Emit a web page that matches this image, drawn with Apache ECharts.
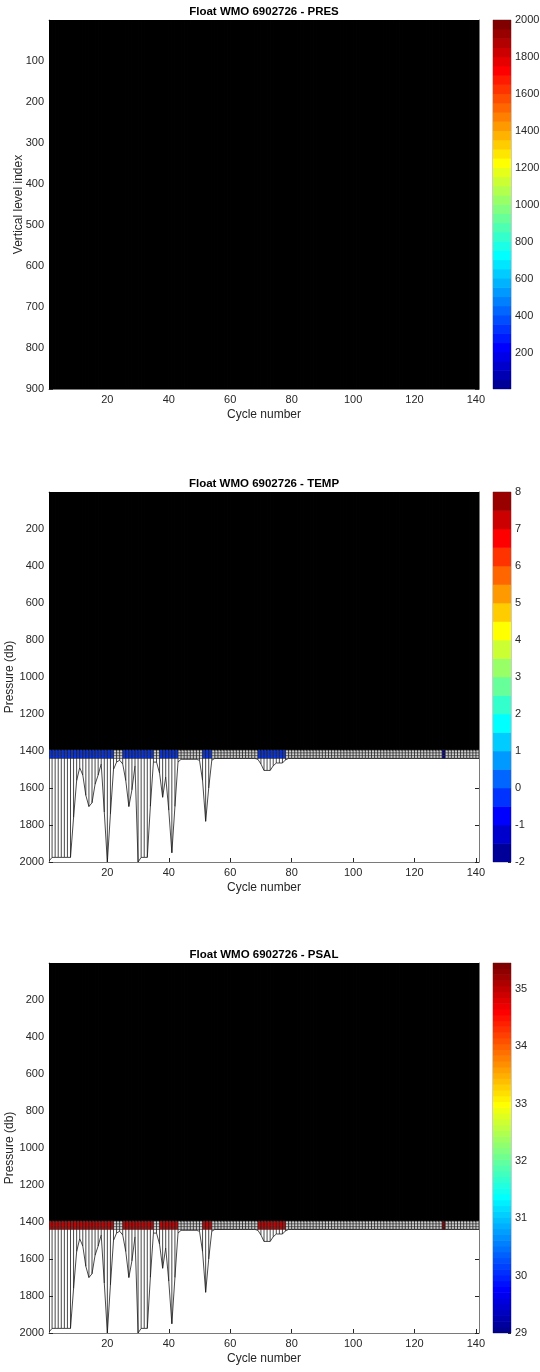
<!DOCTYPE html>
<html><head><meta charset="utf-8">
<script src="https://cdn.jsdelivr.net/npm/echarts@6/dist/echarts.min.js"></script>
<style>html,body{margin:0;padding:0;background:#fff}#c{width:540px;height:1372px}</style>
</head><body><div id="c"></div>
<script>
// ---------------- DATA ----------------
const floatId = '6902726';
const panelVars = ['PRES', 'TEMP', 'PSAL'];
const cycles = Array.from({length: 141}, (_, i) => i + 1);   // mesh node cycle numbers
const xTicks = [20, 40, 60, 80, 100, 120, 140];
const levelTicks = [100, 200, 300, 400, 500, 600, 700, 800, 900];
const presTicks = [200, 400, 600, 800, 1000, 1200, 1400, 1600, 1800, 2000];

// PRES panel: number of vertical levels per cycle (mesh fully dense -> black)
const presLevelCount = [
 900,900,900,900,900,900,900,900,900,900,900,900,900,900,900,900,900,900,900,900,
 900,900,900,900,900,900,900,900,900,900,900,900,900,900,900,900,900,900,900,900,
 900,900,900,900,900,900,900,900,900,900,900,900,900,900,900,900,900,900,900,900,
 900,900,900,900,900,900,900,900,900,900,900,900,900,900,900,900,900,900,900,900,
 900,900,900,900,900,900,900,900,900,900,900,900,900,900,900,900,900,900,900,900,
 900,900,900,900,900,900,900,900,900,900,900,900,900,900,900,900,900,900,900,900,
 900,900,900,900,900,900,900,900,900,900,900,900,900,900,900,900,900,900,900,900,900];

// deepest pressure (db) of each profile (mesh bottom node per cycle)
const profileBottom = [
 1995,1975,1975,1975,1975,1975,1975,1975,1760,1560,1490,1530,1640,1700,1680,1580,1530,1470,1730,2000,
 1740,1500,1460,1450,1470,1560,1700,1610,1480,2000,1975,1975,1975,1700,1460,1460,1520,1650,1540,1720,
 1950,1700,1460,1445,1445,1445,1445,1445,1445,1450,1560,1780,1600,1450,1440,1440,1440,1440,1440,1440,
 1440,1440,1440,1440,1440,1440,1440,1440,1445,1470,1505,1505,1505,1480,1465,1465,1465,1448,1440,1440,
 1440,1440,1440,1440,1440,1440,1440,1440,1440,1440,1440,1440,1440,1440,1440,1440,1440,1440,1440,1440,
 1440,1440,1440,1440,1440,1440,1440,1440,1440,1440,1440,1440,1440,1440,1440,1440,1440,1440,1440,1440,
 1440,1440,1440,1440,1440,1440,1440,1440,1440,1440,1440,1440,1440,1440,1440,1440,1440,1440,1440,1440,1440];

// pressure levels (db): dense mesh down to first, strip level edges after
const denseMeshBottom = 1395;
const stripLevels = [1395, 1410, 1425, 1440];

// values in the strip cells (cell i spans cycle i..i+1), null = no data
const tempStrip = [
 -0.40,-0.35,-0.42,-0.38,-0.30,-0.36,-0.41,-0.33,-0.28,-0.32,-0.37,-0.40,-0.35,-0.30,-0.29,-0.34,-0.38,-0.41,-0.36,-0.33,
 -0.31,null,null,null,-0.36,-0.39,-0.34,-0.30,-0.35,-0.42,-0.38,-0.33,-0.31,-0.36,null,null,-0.34,-0.37,-0.40,-0.35,
 -0.32,-0.38,null,null,null,null,null,null,null,null,-0.30,-0.33,-0.36,null,null,null,null,null,null,null,
 null,null,null,null,null,null,null,null,-0.28,-0.31,-0.35,-0.33,-0.30,-0.29,-0.34,-0.36,-0.32,null,null,null,
 null,null,null,null,null,null,null,null,null,null,null,null,null,null,null,null,null,null,null,null,
 null,null,null,null,null,null,null,null,null,null,null,null,null,null,null,null,null,null,null,null,
 null,null,null,null,null,null,null,null,-1.85,null,null,null,null,null,null,null,null,null,null,null];
const psalStrip = [
 34.91,34.91,34.90,34.91,34.91,34.92,34.91,34.90,34.91,34.91,34.91,34.90,34.91,34.91,34.92,34.91,34.91,34.90,34.91,34.91,
 34.91,null,null,null,34.91,34.90,34.91,34.91,34.92,34.91,34.91,34.90,34.91,34.91,null,null,34.91,34.91,34.90,34.91,
 34.91,34.91,null,null,null,null,null,null,null,null,34.90,34.91,34.91,null,null,null,null,null,null,null,
 null,null,null,null,null,null,null,null,34.91,34.91,34.90,34.91,34.91,34.91,34.92,34.91,34.91,null,null,null,
 null,null,null,null,null,null,null,null,null,null,null,null,null,null,null,null,null,null,null,null,
 null,null,null,null,null,null,null,null,null,null,null,null,null,null,null,null,null,null,null,null,
 null,null,null,null,null,null,null,null,35.45,null,null,null,null,null,null,null,null,null,null,null];

// colour scales (min, max, number of colormap levels, tick labels)
const presScale = {min: 5, max: 2000, n: 40, ticks: [200,400,600,800,1000,1200,1400,1600,1800,2000]};
const tempScale = {min: -2, max: 8, n: 20, ticks: [-2,-1,0,1,2,3,4,5,6,7,8]};
const psalScale = {min: 29, max: 35.45, n: 64, ticks: [29,30,31,32,33,34,35]};

// ---------------- STYLE / LAYOUT ----------------
const FONT = "'Liberation Sans', Arial, Helvetica, sans-serif";
const TXT = '#262626';
const PL = 49, PW = 430;                 // plot left/width
const CBL = 493, CBW = 18;               // colorbar left/width
const tops = [20, 492, 963];
const heights = [369, 370, 370];

function jet(m) {
  const n = Math.ceil(m / 4);
  const u = [];
  for (let i = 1; i <= n; i++) u.push(i / n);
  for (let i = 0; i < n - 1; i++) u.push(1);
  for (let i = n; i >= 1; i--) u.push(i / n);
  const g0 = Math.ceil(n / 2) - ((m % 4) === 1 ? 1 : 0);
  const J = Array.from({length: m}, () => [0, 0, 0]);
  for (let k = 0; k < u.length; k++) {
    const g = g0 + k + 1, r = g + n, b = g - n;
    if (r >= 1 && r <= m) J[r - 1][0] = u[k];
    if (g >= 1 && g <= m) J[g - 1][1] = u[k];
    if (b >= 1 && b <= m) J[b - 1][2] = u[k];
  }
  return J.map(c => 'rgb(' + c.map(v => Math.round(v * 255)).join(',') + ')');
}
function colorFor(v, sc, cols) {
  let k = Math.floor((v - sc.min) / (sc.max - sc.min) * sc.n);
  k = Math.max(0, Math.min(sc.n - 1, k));
  return cols[k];
}
const plain = v => String(v);

const grids = [], xAxes = [], yAxes = [], series = [], graphics = [];
const axLine = {show: true, onZero: false, lineStyle: {color: '#7a7a7a', width: 1}};
const tickStyle = {color: '#262626', width: 1};
const lblStyle = {fontFamily: FONT, fontSize: 11, color: TXT, formatter: plain};

panelVars.forEach((v, p) => {
  grids.push({left: PL, top: tops[p], width: PW, height: heights[p], containLabel: false, outerBoundsMode: 'none'});
  grids.push({left: CBL, top: tops[p], width: CBW, height: heights[p], containLabel: false, outerBoundsMode: 'none',
    show: true, borderColor: '#9a9a9a', borderWidth: 1, backgroundColor: 'transparent'});
  const gMain = 2 * p, gCb = 2 * p + 1;
  const isPres = p === 0;
  const yMax = isPres ? 900 : 2000;
  const yT = isPres ? levelTicks : presTicks;
  xAxes.push({type: 'value', gridIndex: gMain, position: 'bottom', min: 1, max: 141,
    name: 'Cycle number', nameLocation: 'middle', nameGap: 20, nameMoveOverlap: false,
    nameTextStyle: {fontFamily: FONT, fontSize: 12, color: TXT},
    axisLine: axLine, splitLine: {show: false},
    axisTick: {show: true, inside: true, length: 4, customValues: xTicks, lineStyle: tickStyle},
    axisLabel: Object.assign({customValues: xTicks, margin: 5}, lblStyle)});
  xAxes.push({type: 'value', gridIndex: gMain, position: 'top', min: 1, max: 141,
    axisLine: axLine, splitLine: {show: false},
    axisTick: {show: false}, axisLabel: {show: false}});
  xAxes.push({type: 'value', gridIndex: gCb, min: 0, max: 1, show: false});
  yAxes.push({type: 'value', gridIndex: gMain, position: 'left', inverse: true, min: 0, max: yMax,
    name: isPres ? 'Vertical level index' : 'Pressure (db)', nameLocation: 'middle',
    nameGap: isPres ? 24 : 33, nameRotate: 90, nameMoveOverlap: false,
    nameTextStyle: {fontFamily: FONT, fontSize: 12, color: TXT},
    axisLine: axLine, splitLine: {show: false},
    axisTick: {show: true, inside: true, length: 4, customValues: yT, lineStyle: tickStyle},
    axisLabel: Object.assign({customValues: yT, margin: 5}, lblStyle)});
  yAxes.push({type: 'value', gridIndex: gMain, position: 'right', inverse: true, min: 0, max: yMax,
    axisLine: axLine, splitLine: {show: false},
    axisTick: {show: true, inside: true, length: 4, customValues: yT, lineStyle: tickStyle},
    axisLabel: {show: false}});
  const sc = [presScale, tempScale, psalScale][p];
  yAxes.push({type: 'value', gridIndex: gCb, position: 'right', min: sc.min, max: sc.max,
    axisLine: {show: false, onZero: false}, splitLine: {show: false},
    axisTick: {show: true, inside: true, length: 3, customValues: sc.ticks, lineStyle: tickStyle},
    axisLabel: Object.assign({customValues: sc.ticks, margin: 4}, lblStyle)});

  const xi = 3 * p, yi = 3 * p;
  const cols = jet(sc.n);

  if (isPres) {
    series.push({type: 'custom', xAxisIndex: xi, yAxisIndex: yi, clip: true, silent: true,
      data: cycles.slice(0, cycles.length - 1).map((c, i) => [c, presLevelCount[i]]),
      renderItem(params, api) {
        const c = api.value(0);
        const a = api.coord([c, 0]), b = api.coord([c + 1, api.value(1)]);
        return {type: 'rect', shape: {x: a[0], y: a[1], width: b[0] - a[0], height: b[1] - a[1]},
          style: {fill: '#000', stroke: '#000', lineWidth: 1.2}};
      }});
  } else {
    const strip = p === 1 ? tempStrip : psalStrip;
    series.push({type: 'custom', xAxisIndex: xi, yAxisIndex: yi, clip: true, silent: true,
      data: cycles.map((c, i) => [c, profileBottom[i], (i < strip.length && strip[i] != null) ? strip[i] : '-']),
      renderItem(params, api) {
        const i = params.dataIndex;
        const c = api.value(0);
        const bot = api.value(1);
        const sv = api.value(2);
        const ch = [];
        const lineSt = {stroke: '#1a1a1a', lineWidth: 0.8};
        const top = stripLevels[0], sBot = stripLevels[stripLevels.length - 1];
        const pNodeBot = api.coord([c, bot]);
        if (i < cycles.length - 1) {
          const a = api.coord([c, 0]);
          const d = api.coord([c + 1, denseMeshBottom]);
          ch.push({type: 'rect', shape: {x: a[0], y: a[1], width: d[0] - a[0], height: d[1] - a[1]},
            style: {fill: '#000', stroke: '#000', lineWidth: 1.2}});
          const s1 = api.coord([c, top]), s2 = api.coord([c + 1, sBot]);
          const fill = (sv == null || isNaN(sv)) ? '#cfcfcf' : colorFor(sv, sc, cols);
          ch.push({type: 'rect', shape: {x: s1[0], y: s1[1], width: s2[0] - s1[0] + 0.3, height: s2[1] - s1[1]},
            style: {fill: fill}});
          stripLevels.forEach(L => {
            const l1 = api.coord([c, L]), l2 = api.coord([c + 1, L]);
            ch.push({type: 'line', shape: {x1: l1[0], y1: l1[1], x2: l2[0], y2: l2[1]},
              style: {stroke: '#3a3a3a', lineWidth: 0.7}});
          });
          const nb = api.coord([c + 1, profileBottom[i + 1]]);
          ch.push({type: 'line', shape: {x1: pNodeBot[0], y1: pNodeBot[1], x2: nb[0], y2: nb[1]}, style: lineSt});
        }
        const st = api.coord([c, top]);
        ch.push({type: 'line', shape: {x1: st[0], y1: st[1], x2: pNodeBot[0], y2: pNodeBot[1]}, style: lineSt});
        return {type: 'group', children: ch};
      }});
  }
  const step = (sc.max - sc.min) / sc.n;
  series.push({type: 'custom', xAxisIndex: xi + 2, yAxisIndex: yi + 2, silent: true, clip: true,
    data: cols.map((col, k) => [k, sc.min + k * step, sc.min + (k + 1) * step]),
    renderItem(params, api) {
      const a = api.coord([0, api.value(2)]), b = api.coord([1, api.value(1)]);
      return {type: 'rect', shape: {x: a[0], y: a[1] - 0.3, width: b[0] - a[0], height: b[1] - a[1] + 0.6},
        style: {fill: cols[api.value(0)]}};
    }});
  graphics.push({type: 'text', x: PL + PW / 2, y: tops[p] - 2, style: {
    text: 'Float WMO ' + floatId + ' - ' + v, font: 'bold 11.5px ' + FONT, fill: '#000',
    textAlign: 'center', textVerticalAlign: 'bottom'}});
});

const chart = echarts.init(document.getElementById('c'), null, {renderer: 'canvas'});
chart.setOption({
  animation: false, backgroundColor: '#fff',
  grid: grids, xAxis: xAxes, yAxis: yAxes, series: series, graphic: graphics
});
</script></body></html>
